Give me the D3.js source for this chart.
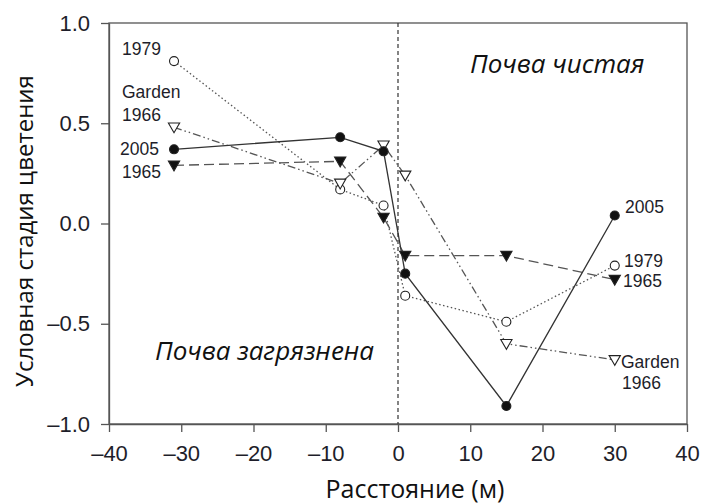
<!DOCTYPE html>
<html>
<head>
<meta charset="utf-8">
<script src="https://cdn.jsdelivr.net/npm/d3@7"></script>
<style>
  body { margin: 0; background: #fff; }
  text { font-family: "Liberation Sans", Arial, sans-serif; }
</style>
</head>
<body>
<script>
'use strict';
// data
const xTicks = [-40, -30, -20, -10, 0, 10, 20, 30, 40];
const yTicks = [-1.0, -0.5, 0.0, 0.5, 1.0];
const distance = [-31, -8, -2, 1, 15, 30];
const distGarden = [-31, -8, -2, 1, 15, 30];
const val2005 = [0.37, 0.43, 0.36, -0.25, -0.91, 0.04];
const val1979 = [0.81, 0.17, 0.09, -0.36, -0.49, -0.21];
const val1965 = [0.29, 0.31, 0.03, -0.16, -0.16, -0.28];
const valGarden = [0.48, 0.20, 0.39, 0.24, -0.60, -0.68];

(function() {
    const width = 702, height = 504;
    const left = 109, right = 687, top = 23, bottom = 424;

    const svg = d3.select('body').append('svg')
        .attr('width', width)
        .attr('height', height);

    const x = d3.scaleLinear().domain([-40, 40]).range([left, right]);
    const y = d3.scaleLinear().domain([-1, 1]).range([bottom, top]);

    // frame
    svg.append('rect')
        .attr('x', left).attr('y', top)
        .attr('width', right - left).attr('height', bottom - top)
        .attr('fill', 'none').attr('stroke', '#555').attr('stroke-width', 1.3);

    // axes
    const xAxis = d3.axisBottom(x).tickValues(xTicks).tickSize(8).tickPadding(13).tickSizeOuter(0)
        .tickFormat(d => d < 0 ? '\u2013' + Math.abs(d) : d);
    const gx = svg.append('g').attr('transform', 'translate(0,' + bottom + ')').call(xAxis);
    const yAxis = d3.axisLeft(y).tickValues(yTicks).tickSize(8).tickPadding(11).tickSizeOuter(0)
        .tickFormat(d => (d < 0 ? '\u2013' : '') + Math.abs(d).toFixed(1));
    const gy = svg.append('g').attr('transform', 'translate(' + left + ',0)').call(yAxis);

    [gx, gy].forEach(g => {
        g.select('.domain').attr('stroke', '#555').attr('stroke-width', 1.3);
        g.selectAll('.tick line').attr('stroke', '#555').attr('stroke-width', 1.3);
        g.selectAll('.tick text').attr('fill', '#1e1e2a')
            .style('font-size', '22px').style('font-family', '"Liberation Sans", Arial, sans-serif');
    });

    // dashed zero line
    svg.append('line')
        .attr('x1', x(0)).attr('x2', x(0))
        .attr('y1', top).attr('y2', bottom)
        .attr('stroke', '#333').attr('stroke-width', 1.2)
        .attr('stroke-dasharray', '4,3');

    const line = d3.line().x(d => x(d[0])).y(d => y(d[1]));

    const series = [
        { xs: distance, ys: val1979, dash: '1.5,2.5', color: '#555', marker: 'circle', fill: '#fff' },
        { xs: distGarden, ys: valGarden, dash: '8,3,1.5,3,1.5,3', color: '#555', marker: 'tri', fill: '#fff' },
        { xs: distance, ys: val1965, dash: '10,5', color: '#555', marker: 'tri', fill: '#111' },
        { xs: distance, ys: val2005, dash: null, color: '#333', marker: 'circle', fill: '#111' }
    ];

    series.forEach(s => {
        const pts = s.xs.map((d, i) => [d, s.ys[i]]);
        svg.append('path')
            .datum(pts)
            .attr('d', line)
            .attr('fill', 'none')
            .attr('stroke', s.color)
            .attr('stroke-width', 1.3)
            .attr('stroke-dasharray', s.dash);
    });

    // markers
    const tri = d3.symbol().type(d3.symbolTriangle).size(55);
    series.forEach(s => {
        const pts = s.xs.map((d, i) => [d, s.ys[i]]);
        if (s.marker === 'circle') {
            svg.selectAll(null).data(pts).enter().append('circle')
                .attr('cx', d => x(d[0])).attr('cy', d => y(d[1]))
                .attr('r', 4.5)
                .attr('fill', s.fill).attr('stroke', '#222').attr('stroke-width', 1.1);
        } else {
            svg.selectAll(null).data(pts).enter().append('path')
                .attr('d', tri)
                .attr('transform', d => 'translate(' + x(d[0]) + ',' + (y(d[1]) - 1) + ') rotate(180)')
                .attr('fill', s.fill).attr('stroke', '#222').attr('stroke-width', 1.1);
        }
    });

    // series labels
    const labels = [
        { t: '1979', x: 122, y: 55 },
        { t: 'Garden', x: 122, y: 98 },
        { t: '1966', x: 122, y: 121 },
        { t: '2005', x: 120, y: 155 },
        { t: '1965', x: 122, y: 178 },
        { t: '2005', x: 625, y: 213 },
        { t: '1979', x: 624, y: 267 },
        { t: '1965', x: 623, y: 287 },
        { t: 'Garden', x: 621, y: 368 },
        { t: '1966', x: 622, y: 389 }
    ];
    svg.selectAll('.lbl').data(labels).enter().append('text')
        .attr('class', 'lbl')
        .attr('x', d => d.x).attr('y', d => d.y)
        .attr('fill', '#1e1e2a')
        .style('font-size', '17.5px')
        .text(d => d.t);

    // annotations
    svg.append('text')
        .attr('x', 470).attr('y', 73)
        .style('font-family', '"Open Sans", sans-serif')
        .style('font-style', 'italic')
        .style('font-size', '26px')
        .attr('fill', '#111')
        .text('Почва чистая');
    svg.append('text')
        .attr('x', 155).attr('y', 360)
        .style('font-family', '"Open Sans", sans-serif')
        .style('font-style', 'italic')
        .style('font-size', '26px')
        .attr('fill', '#111')
        .text('Почва загрязнена');

    // axis titles
    svg.append('text')
        .attr('x', 415).attr('y', 498)
        .attr('text-anchor', 'middle')
        .style('font-family', '"Open Sans", sans-serif')
        .style('font-size', '25px')
        .attr('fill', '#111')
        .text('Расстояние (м)');
    svg.append('text')
        .attr('transform', 'translate(33,231) rotate(-90)')
        .attr('text-anchor', 'middle')
        .style('font-family', '"Open Sans", sans-serif')
        .style('font-size', '24px')
        .attr('fill', '#111')
        .text('Условная стадия цветения');
})();
</script>
</body>
</html>
